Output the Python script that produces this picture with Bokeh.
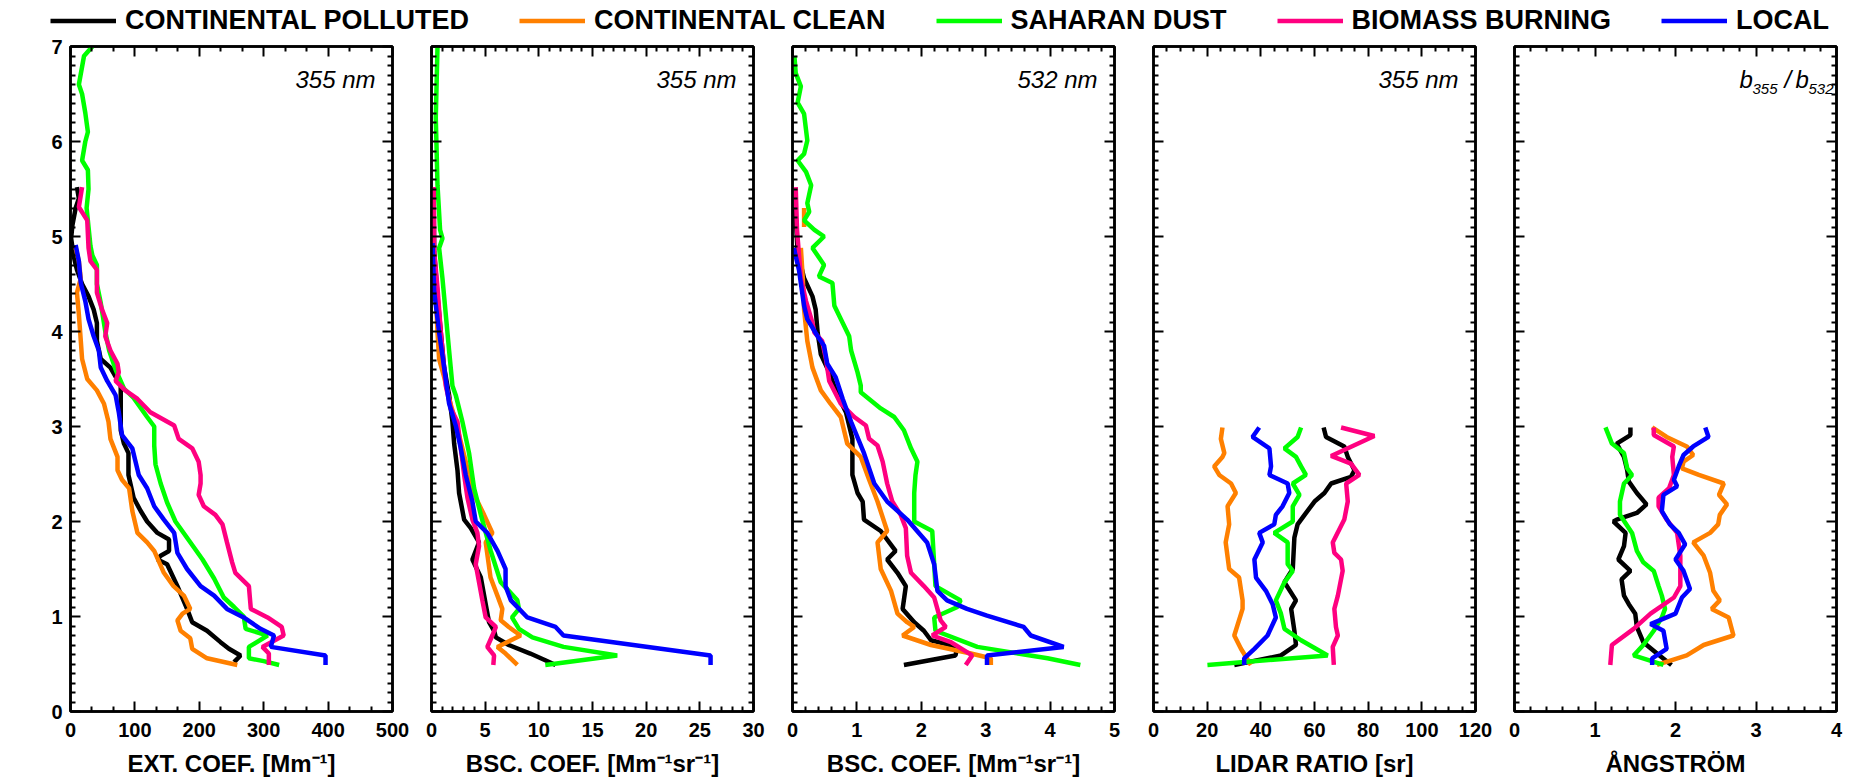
import math
from bokeh.plotting import figure
from bokeh.layouts import row, column
from bokeh.models import (Range1d, FixedTicker, LinearAxis, Label, Legend,
                          LegendItem, CustomLabelingPolicy)
from bokeh.embed import file_html
from bokeh.resources import INLINE

NAN = float("nan")
FONT = "Liberation Sans"

SERIES = ["CONTINENTAL POLLUTED", "CONTINENTAL CLEAN", "SAHARAN DUST",
          "BIOMASS BURNING", "LOCAL"]
COLORS = ["#000000", "#ff8000", "#00ff00", "#ff0080", "#0000ff"]

HEIGHT_TICKS = [0, 1, 2, 3, 4, 5, 6, 7]

# ---------------- extinction coefficient, 355 nm [Mm-1] ----------------
ext_polluted_km = [5.52, 5.40, 5.30, 5.12, 4.98, 4.79, 4.65, 4.50, 4.37, 4.23, 4.09, 3.90, 3.71,
                   3.62, 3.43, 3.19, 2.96, 2.82, 2.72, 2.49, 2.25, 2.11, 2.00, 1.88, 1.81, 1.69,
                   1.64, 1.60, 1.55, 1.32, 1.08, 0.94, 0.85, 0.73, 0.66, 0.59, 0.52]
ext_polluted = [10, 13, 8, 3, 1, 5, 10, 18, 28, 36, 41, 41, 47, 62, 78, 78, 78, 83, 90, 90, 98,
                109, 119, 135, 153, 153, 140, 135, 150, 166, 181, 189, 212, 233, 246, 264, 254]
ext_clean_km = [4.88, 4.74, 4.56, 4.41, 4.18, 3.90, 3.71, 3.50, 3.38, 3.24, 3.05, 2.87, 2.68, 2.54,
                2.44, 2.35, 2.11, 1.88, 1.78, 1.69, 1.46, 1.32, 1.22, 1.08, 1.03, 0.96, 0.85, 0.77,
                0.66, 0.56, 0.49]
ext_clean = [8, 13, 16, 10, 13, 16, 18, 26, 41, 52, 59, 62, 73, 73, 80, 91, 96, 104, 119, 130, 145,
             160, 176, 186, 174, 166, 171, 186, 189, 212, 259]
ext_dust_km = [7.0, 6.9, 6.6, 6.5, 6.3, 6.1, 6.0, 5.8, 5.7, 5.5, 5.3, 5.1, 4.9, 4.8, 4.7, 4.5, 4.3,
               4.0, 3.8, 3.6, 3.4, 3.3, 3.1, 3.0, 2.8, 2.6, 2.4, 2.2, 2.0, 1.8, 1.6, 1.4, 1.2, 1.1,
               1.0, 0.87, 0.8, 0.68, 0.56, 0.53, 0.49]
ext_dust = [34, 21, 13, 18, 23, 27, 23, 18, 27, 28, 25, 28, 31, 34, 41, 41, 47, 54, 60, 70, 83, 98,
            119, 130, 130, 132, 140, 150, 163, 184, 205, 223, 238, 254, 269, 272, 306, 277, 277,
            300, 324]
ext_biomass_km = [5.52, 5.31, 5.17, 4.88, 4.74, 4.65, 4.41, 4.23, 4.09, 3.95, 3.80, 3.66, 3.57,
                  3.48, 3.38, 3.29, 3.15, 3.01, 2.87, 2.77, 2.63, 2.49, 2.40, 2.28, 2.16, 2.07,
                  1.97, 1.78, 1.57, 1.46, 1.32, 1.08, 0.99, 0.89, 0.80, 0.68, 0.61, 0.49]
ext_biomass = [18, 13, 26, 28, 31, 41, 41, 49, 57, 54, 62, 73, 75, 70, 85, 104, 124, 161, 168, 189,
               199, 202, 202, 199, 207, 225, 236, 243, 251, 256, 277, 280, 306, 328, 331, 298,
               308, 308]
ext_local_km = [4.91, 4.74, 4.51, 4.32, 4.13, 3.95, 3.80, 3.62, 3.48, 3.33, 3.15, 2.91, 2.77, 2.49,
                2.35, 2.16, 2.02, 1.88, 1.67, 1.50, 1.32, 1.22, 1.08, 0.99, 0.87, 0.80, 0.68, 0.59,
                0.49]
ext_local = [8, 13, 16, 23, 28, 36, 44, 47, 57, 70, 75, 80, 96, 106, 119, 130, 145, 161, 166, 181,
             202, 223, 243, 269, 295, 316, 311, 396, 396]

# ---------------- backscatter coefficient, 355 nm [Mm-1 sr-1] ----------------
b355_polluted_km = [5.52, 4.84, 4.37, 3.99, 3.62, 3.33, 3.05, 2.82, 2.54, 2.30, 2.02, 1.93, 1.78,
                    1.60, 1.41, 1.13, 0.94, 0.85, 0.78, 0.70, 0.61, 0.54, 0.49]
b355_polluted = [0.2, 0.25, 0.56, 0.87, 1.18, 1.64, 1.95, 2.11, 2.42, 2.57, 3.04, 3.66, 4.43,
                 3.81, 4.6, 5.05, 5.36, 5.83, 6.0, 7.2, 9.2, 10.6, 11.56]
b355_clean_km = [4.88, 3.99, 3.71, 3.52, 3.29, 3.05, 2.77, 2.49, 2.25, 2.07, 1.88, 1.78, 1.41,
                 1.22, 1.08, 0.96, 0.89, 0.80, 0.68, 0.61, 0.49]
b355_clean = [0.2, 0.56, 0.71, 1.18, 1.64, 2.26, 2.88, 3.5, 4.12, 4.9, 5.67, 5.05, 5.5, 6.14, 6.6,
              6.45, 7.2, 8.3, 6.14, 6.9, 8.0]
b355_dust_km = [7.0, 6.25, 5.54, 5.07, 4.98, 4.88, 4.56, 4.18, 3.80, 3.43, 3.33, 3.05, 2.72, 2.35,
                2.07, 1.69, 1.36, 1.27, 1.17, 1.08, 0.99, 0.87, 0.78, 0.68, 0.59, 0.49]
b355_dust = [0.56, 0.4, 0.56, 0.8, 1.02, 0.71, 1.02, 1.33, 1.64, 1.95, 2.26, 2.88, 3.5, 3.97,
             4.6, 5.52, 6.45, 7.2, 8.0, 8.15, 7.5, 8.15, 9.4, 12.3, 17.3, 10.6]
b355_biomass_km = [5.52, 4.84, 4.46, 3.99, 3.80, 3.43, 3.19, 3.05, 2.77, 2.49, 2.25, 2.02, 1.88,
                   1.74, 1.55, 1.36, 1.17, 0.99, 0.89, 0.80, 0.68, 0.59, 0.49]
b355_biomass = [0.2, 0.25, 0.56, 0.87, 1.02, 1.33, 1.8, 2.42, 2.73, 3.04, 3.35, 3.81, 4.28, 4.43,
                4.12, 4.43, 4.74, 5.05, 6.0, 5.67, 5.2, 5.83, 5.76]
b355_local_km = [4.93, 4.42, 3.99, 3.62, 3.24, 3.01, 2.77, 2.49, 2.21, 2.00, 1.88, 1.69, 1.50,
                 1.32, 1.17, 0.99, 0.89, 0.80, 0.59, 0.49]
b355_local = [0.1, 0.25, 0.71, 1.18, 1.64, 2.26, 2.73, 3.19, 3.81, 4.12, 5.2, 6.15, 6.9, 6.9, 7.4,
              8.93, 11.56, 12.3, 26.0, 26.0]

# ---------------- backscatter coefficient, 532 nm [Mm-1 sr-1] ----------------
b532_polluted_km = [5.31, 4.84, 4.56, 4.37, 4.23, 3.99, 3.76, 3.57, 3.33, 3.15, 2.87, 2.49, 2.30,
                    2.21, 2.02, 1.90, 1.69, 1.60, 1.46, 1.32, 1.08, 0.94, 0.85, 0.75, 0.68, 0.59,
                    0.49]
b532_polluted = [0.04, 0.08, 0.18, 0.31, 0.36, 0.39, 0.44, 0.57, 0.7, 0.83, 0.93, 0.93, 1.01,
                 1.09, 1.11, 1.37, 1.6, 1.47, 1.63, 1.76, 1.71, 1.89, 2.04, 2.15, 2.56, 2.53, 1.73]
b532_clean_km = [5.30, 5.10, NAN, 4.88, 4.56, 4.23, 3.90, 3.62, 3.38, 3.24, 3.10, 2.82, 2.68, 2.44,
                 2.21, 1.90, 1.78, 1.50, 1.27, 1.03, 0.94, 0.89, 0.80, 0.70, 0.61, 0.56, 0.49]
b532_clean = [0.18, 0.18, NAN, 0.13, 0.16, 0.18, 0.23, 0.31, 0.44, 0.59, 0.75, 0.85, 1.06, 1.19,
              1.32, 1.47, 1.32, 1.37, 1.53, 1.63, 1.78, 1.89, 1.71, 2.15, 2.77, 3.08, 3.08]
b532_dust_km = [6.90, 6.72, 6.58, 6.41, 6.29, 6.01, 5.87, 5.80, 5.68, 5.54, 5.35, 5.26, 5.17, 5.07,
                5.00, 4.88, 4.70, 4.58, 4.51, 4.27, 4.09, 3.95, 3.80, 3.57, 3.43, 3.36, 3.19, 3.10,
                2.96, 2.77, 2.63, 2.49, 2.30, 2.00, 1.90, 1.55, 1.32, 1.17, 1.10, 0.99, 0.85, 0.68,
                0.56, 0.49]
b532_dust = [0.03, 0.05, 0.13, 0.08, 0.18, 0.23, 0.18, 0.08, 0.21, 0.29, 0.23, 0.26, 0.18, 0.34,
             0.49, 0.31, 0.49, 0.41, 0.62, 0.65, 0.78, 0.88, 0.91, 1.01, 1.06, 1.06, 1.37, 1.58,
             1.73, 1.84, 1.94, 1.91, 1.89, 1.89, 2.17, 2.2, 2.22, 2.61, 2.56, 2.2, 2.22, 2.87,
             3.96, 4.47]
b532_biomass_km = [5.52, 5.07, 4.56, 4.32, 4.09, 3.99, 3.90, 3.71, 3.48, 3.24, 3.10, 3.01, 2.87,
                   2.80, 2.63, 2.40, 2.21, 2.07, 1.93, 1.64, 1.46, 1.32, 1.20, 1.08, 0.96, 0.89,
                   0.80, 0.73, 0.59, 0.49]
b532_biomass = [0.05, 0.07, 0.13, 0.21, 0.31, 0.34, 0.46, 0.52, 0.57, 0.75, 0.96, 1.14, 1.19,
                1.32, 1.4, 1.47, 1.55, 1.68, 1.76, 1.78, 1.84, 2.04, 2.2, 2.25, 2.3, 2.38, 2.17,
                2.46, 2.79, 2.69]
b532_local_km = [4.88, 4.65, 4.27, 4.13, 3.95, 3.85, 3.66, 3.52, 3.29, 3.05, 2.72, 2.40, 2.21,
                 2.02, 1.78, 1.55, 1.27, 1.17, 1.08, 1.01, 0.89, 0.80, 0.68, 0.59, 0.49]
b532_local = [0.02, 0.1, 0.18, 0.23, 0.39, 0.49, 0.54, 0.67, 0.78, 0.91, 1.11, 1.27, 1.47, 1.78,
              2.09, 2.2, 2.25, 2.4, 2.71, 3.02, 3.59, 3.7, 4.21, 3.02, 3.02]

# ---------------- lidar ratio, 355 nm [sr] ----------------
lr_polluted_km = [2.99, 2.89, 2.79, 2.68, 2.54, 2.47, 2.40, 2.30, 2.21, 2.07, 1.97, 1.83, 1.50,
                  1.36, 1.17, 1.08, 0.85, 0.70, 0.59, 0.49]
lr_polluted = [63.4, 64.3, 71.1, 72.4, 74.9, 73.6, 66.2, 63.7, 60.0, 56.3, 53.7, 52.5, 51.9, 48.8,
               53.1, 51.3, 52.5, 53.1, 47.5, 30.1]
lr_clean_km = [2.99, 2.87, 2.72, 2.68, 2.58, 2.49, 2.40, 2.30, 2.16, 1.97, 1.78, 1.50, 1.41, 1.17,
               1.08, 0.80, 0.66, 0.49]
lr_clean = [25.7, 25.1, 26.4, 25.7, 22.6, 24.5, 28.9, 30.7, 27.6, 28.2, 26.9, 28.2, 31.9, 33.2,
            33.2, 30.1, 32.6, 36.3]
lr_dust_km = [2.99, 2.89, 2.77, 2.68, 2.58, 2.49, 2.40, 2.28, 2.16, 2.00, 1.88, 1.78, 1.55, 1.48,
              1.36, 1.17, 1.03, 0.87, 0.75, 0.59, 0.49]
lr_dust = [55.0, 53.7, 48.8, 53.1, 55.0, 56.8, 51.9, 54.4, 51.9, 51.9, 45.0, 50.0, 50.0, 51.9,
           48.8, 45.6, 47.5, 48.8, 55.0, 64.9, 20.1]
lr_biomass_km = [2.99, 2.90, 2.69, 2.61, 2.49, 2.40, 2.21, 2.02, 1.78, 1.67, 1.60, 1.48, 1.22,
                 1.08, 0.89, 0.80, 0.68, 0.49]
lr_biomass = [69.9, 82.3, 66.2, 73.6, 76.7, 71.8, 72.4, 71.1, 66.8, 67.4, 69.9, 70.5, 68.7, 67.4,
              68.0, 68.7, 66.8, 67.2]
lr_local_km = [2.99, 2.89, 2.77, 2.58, 2.49, 2.40, 2.30, 2.16, 2.07, 1.97, 1.88, 1.78, 1.60, 1.41,
               1.27, 1.13, 0.99, 0.80, 0.66, 0.56, 0.49]
lr_local = [39.4, 36.9, 43.2, 43.8, 43.2, 50.0, 50.6, 48.1, 45.6, 45.0, 39.4, 40.7, 37.6, 38.2,
            41.9, 44.4, 45.6, 42.5, 37.6, 33.8, 33.8]

# ---------------- Angstrom exponent (b355 / b532) ----------------
ang_polluted_km = [2.99, 2.91, 2.82, 2.68, 2.54, 2.42, 2.30, 2.18, 2.09, 2.02, 2.00, 1.88, 1.74,
                   1.60, 1.48, 1.39, 1.22, 1.13, 1.03, 0.89, 0.73, 0.61, 0.49]
ang_polluted = [1.44, 1.44, 1.27, 1.36, 1.40, 1.42, 1.52, 1.64, 1.52, 1.27, 1.23, 1.38, 1.36,
                1.29, 1.44, 1.33, 1.36, 1.42, 1.50, 1.52, 1.60, 1.77, 1.95]
ang_clean_km = [2.99, 2.89, 2.79, 2.70, 2.63, 2.56, 2.49, 2.40, 2.28, 2.18, 2.07, 1.97, 1.88,
                1.78, 1.64, 1.46, 1.27, 1.17, 1.08, 0.99, 0.80, 0.70, 0.59, 0.49]
ang_clean = [1.71, 1.89, 2.14, 2.22, 2.10, 2.08, 2.29, 2.60, 2.54, 2.64, 2.55, 2.53, 2.43, 2.22,
             2.35, 2.43, 2.47, 2.55, 2.45, 2.66, 2.72, 2.35, 2.14, 1.77]
ang_dust_km = [2.99, 2.82, 2.72, 2.56, 2.49, 2.40, 2.21, 2.07, 1.88, 1.69, 1.57, 1.48, 1.32, 1.22,
               1.08, 0.99, 0.85, 0.70, 0.59, 0.49]
ang_dust = [1.13, 1.21, 1.36, 1.40, 1.46, 1.36, 1.31, 1.31, 1.46, 1.52, 1.60, 1.73, 1.79, 1.83,
            1.87, 1.83, 1.73, 1.60, 1.48, 1.85]
ang_biomass_km = [2.99, 2.91, 2.79, 2.68, 2.49, 2.35, 2.25, 2.16, 2.02, 1.88, 1.64, 1.32, 1.20,
                  1.03, 0.87, 0.70, 0.49]
ang_biomass = [1.73, 1.73, 1.98, 1.96, 1.98, 1.92, 1.79, 1.79, 1.89, 2.02, 2.06, 2.06, 1.98, 1.69,
               1.48, 1.21, 1.19]
ang_local_km = [2.99, 2.89, 2.79, 2.70, 2.58, 2.44, 2.37, 2.28, 2.11, 1.97, 1.88, 1.76, 1.60, 1.48,
                1.29, 1.20, 1.03, 0.92, 0.85, 0.66, 0.56, 0.49]
ang_local = [2.37, 2.41, 2.22, 2.10, 2.04, 1.98, 2.02, 1.85, 1.83, 1.93, 2.04, 2.12, 2.00, 2.10,
             2.18, 2.08, 2.00, 1.69, 1.85, 1.89, 1.71, 1.71]

# x tick labels of each panel
EXT_TICKS = [0, 100, 200, 300, 400, 500]
B355_TICKS = [0, 5, 10, 15, 20, 25, 30]
B532_TICKS = [0, 1, 2, 3, 4, 5]
LR_TICKS = [0, 20, 40, 60, 80, 100, 120]
ANG_TICKS = [0, 1, 2, 3, 4]

FRAME_W, FRAME_H = 322, 665
LINE_W = 4.5

# labeling policy that keeps every tick mark but draws no label
NO_LABELS = CustomLabelingPolicy(code="return new Set()")


def minor_ticks(major, parts):
    out = []
    for a, b in zip(major[:-1], major[1:]):
        out += [a + (b - a) * k / parts for k in range(1, parts)]
    return out


def style_axis(ax, ticker, labels):
    ax.ticker = ticker
    ax.axis_line_color = "black"
    ax.axis_line_width = 2.5
    ax.major_tick_in = 10
    ax.major_tick_out = 0
    ax.minor_tick_in = 5
    ax.minor_tick_out = 0
    ax.major_tick_line_width = 2
    ax.minor_tick_line_width = 2
    ax.major_tick_line_color = "black"
    ax.minor_tick_line_color = "black"
    ax.major_label_text_font = FONT
    ax.major_label_text_font_style = "bold"
    ax.major_label_text_color = "black"
    if labels:
        ax.major_label_text_font_size = "20px"
        ax.major_label_standoff = 11
    else:
        ax.major_label_policy = NO_LABELS
        ax.major_label_text_font_size = "1px"
        ax.major_label_standoff = 0


def panel(ticks, minor_parts, xlabel, profiles, left_border, right_border, first=False):
    xmax = ticks[-1]
    p = figure(frame_width=FRAME_W, frame_height=FRAME_H,
               x_range=Range1d(0, xmax), y_range=Range1d(0, 7),
               output_backend="svg", toolbar_location=None,
               min_border_left=left_border, min_border_right=right_border,
               min_border_top=10, min_border_bottom=60)
    p.grid.visible = False
    p.outline_line_color = "black"
    p.outline_line_width = 2.5
    p.background_fill_color = "white"
    p.border_fill_color = "white"

    bottom = p.below[0]
    left = p.left[0]
    top = LinearAxis()
    right = LinearAxis()

    style_axis(bottom, FixedTicker(ticks=ticks, minor_ticks=minor_ticks(ticks, minor_parts)), True)
    style_axis(top, FixedTicker(ticks=ticks, minor_ticks=minor_ticks(ticks, minor_parts)), False)
    style_axis(left, FixedTicker(ticks=HEIGHT_TICKS, minor_ticks=minor_ticks(HEIGHT_TICKS, 10)),
               first)
    style_axis(right, FixedTicker(ticks=HEIGHT_TICKS, minor_ticks=minor_ticks(HEIGHT_TICKS, 10)),
               False)
    if first:
        left.major_label_standoff = 8
    p.add_layout(top, "above")
    p.add_layout(right, "right")

    bottom.axis_label = xlabel
    bottom.axis_label_text_font = FONT
    bottom.axis_label_text_font_style = "bold"
    bottom.axis_label_text_font_size = "24px"
    bottom.axis_label_text_color = "black"
    bottom.axis_label_standoff = 10
    if first:
        # height title, set a little below the middle of the axis
        p.add_layout(Label(x=0, y=3.33, x_offset=-46, angle=math.pi / 2,
                           text="HEIGHT, asl\u00a0 [km]", text_font=FONT,
                           text_font_style="bold", text_font_size="24px",
                           text_align="center", text_baseline="middle", text_color="black"))

    for (km, vals), color in zip(profiles, COLORS):
        p.line(vals, km, line_color=color, line_width=LINE_W)
    return p, xmax


def note(p, xmax, text, dx, dy, size):
    p.add_layout(Label(x=xmax, y=7, x_offset=dx, y_offset=dy, text=text,
                       text_font=FONT, text_font_style="italic", text_font_size=size,
                       text_align="left", text_baseline="alphabetic", text_color="black"))


p1, m1 = panel(EXT_TICKS, 3, "EXT. COEF. [Mm\u207b\u00b9]",
               [(ext_polluted_km, ext_polluted), (ext_clean_km, ext_clean),
                (ext_dust_km, ext_dust), (ext_biomass_km, ext_biomass),
                (ext_local_km, ext_local)], 70, 19, first=True)
p2, m2 = panel(B355_TICKS, 5, "BSC. COEF. [Mm\u207b\u00b9sr\u207b\u00b9]",
               [(b355_polluted_km, b355_polluted), (b355_clean_km, b355_clean),
                (b355_dust_km, b355_dust), (b355_biomass_km, b355_biomass),
                (b355_local_km, b355_local)], 20, 19)
p3, m3 = panel(B532_TICKS, 5, "BSC. COEF. [Mm\u207b\u00b9sr\u207b\u00b9]",
               [(b532_polluted_km, b532_polluted), (b532_clean_km, b532_clean),
                (b532_dust_km, b532_dust), (b532_biomass_km, b532_biomass),
                (b532_local_km, b532_local)], 20, 19)
p4, m4 = panel(LR_TICKS, 4, "LIDAR RATIO [sr]",
               [(lr_polluted_km, lr_polluted), (lr_clean_km, lr_clean),
                (lr_dust_km, lr_dust), (lr_biomass_km, lr_biomass),
                (lr_local_km, lr_local)], 20, 19)
p5, m5 = panel(ANG_TICKS, 5, "\u00c5NGSTR\u00d6M",
               [(ang_polluted_km, ang_polluted), (ang_clean_km, ang_clean),
                (ang_dust_km, ang_dust), (ang_biomass_km, ang_biomass),
                (ang_local_km, ang_local)], 20, 24)

# wavelength notes in the upper right corner of each panel
for p, m, t in [(p1, m1, "355 nm"), (p2, m2, "355 nm"), (p3, m3, "532 nm"), (p4, m4, "355 nm")]:
    note(p, m, t, -97, -33, "24px")

# b355 / b532 with subscripts
note(p5, m5, "b", -97, -33, "24px")
note(p5, m5, "355", -84, -42, "15px")
note(p5, m5, "/", -52, -33, "24px")
note(p5, m5, "b", -41, -33, "24px")
note(p5, m5, "532", -28, -42, "15px")

# shared legend strip across the top; its sample lines sit outside the visible range
lg = figure(width=1860, height=36, x_range=Range1d(0, 1), y_range=Range1d(0, 1),
            output_backend="svg", toolbar_location=None, x_axis_type=None, y_axis_type=None,
            min_border=0)
lg.outline_line_color = None
lg.grid.visible = False
items = []
for name, color in zip(SERIES, COLORS):
    r = lg.line(x=[-5, -4], y=[-5, -4], line_color=color, line_width=LINE_W)
    items.append(LegendItem(label=name, renderers=[r]))
legend = Legend(items=items, orientation="horizontal", location=(50, 0),
                glyph_width=66, glyph_height=27, label_height=27, label_standoff=9,
                spacing=50, padding=0, margin=0, border_line_alpha=0,
                background_fill_alpha=0, label_text_font=FONT,
                label_text_font_style="bold", label_text_font_size="27px",
                label_text_color="black")
lg.add_layout(legend)

layout = column(lg, row(p1, p2, p3, p4, p5))
open("out.html", "w").write(file_html(layout, INLINE))
